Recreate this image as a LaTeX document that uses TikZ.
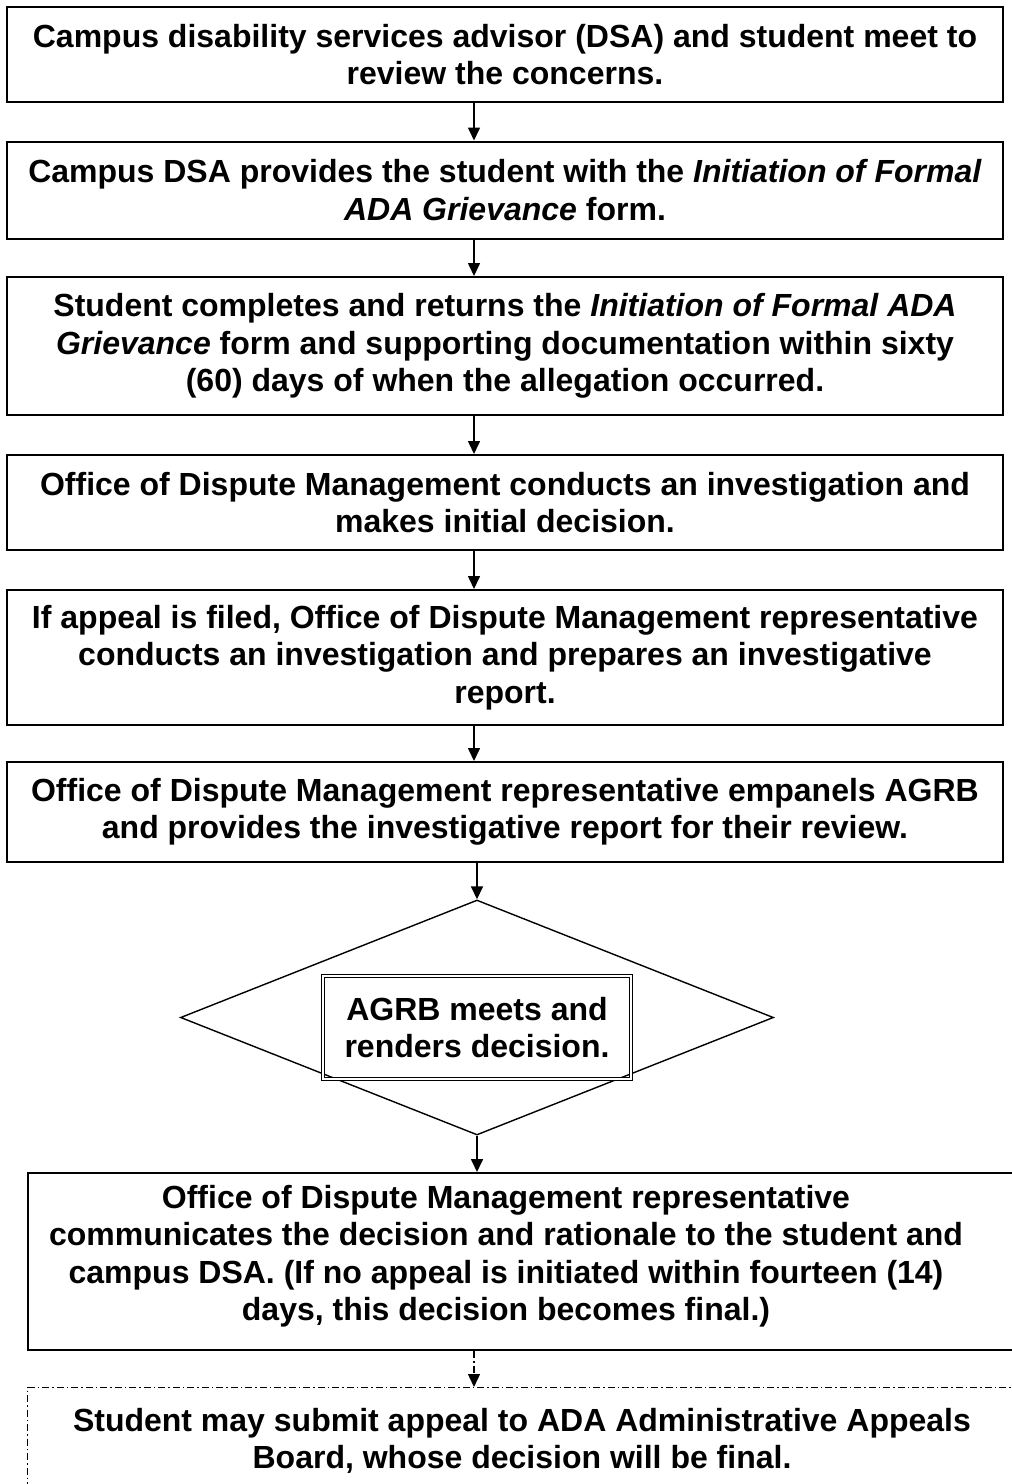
\documentclass[tikz,border=0pt]{standalone}
\usepackage{fontspec}
\setmainfont{Liberation Sans}
\usetikzlibrary{shapes.geometric,arrows.meta}
\tikzset{
  every picture/.style={x=1pt,y=-1pt},
  txt/.style={align=center, inner sep=0pt, font=\fontsize{32}{37.5}\selectfont\bfseries},
  stepbox/.style={txt, draw, line width=2pt, minimum width=996pt},
  framebox/.style={draw, line width=2pt},
  arr/.style={line width=1.6pt, -{Triangle[length=13pt,width=12pt]}},
  dasharr/.style={line width=1.4pt, dash pattern=on 7pt off 3pt on 1.5pt off 3pt, -{Triangle[length=13pt,width=12pt]}},
}
\begin{document}
\begin{tikzpicture}
\clip (0,0) rectangle (1012,1484);
\fill[white] (0,0) rectangle (1012,1484);
\coordinate (ax) at (474,0);

\node[stepbox, minimum height=95pt] (b1) at (505,54.5)
  {Campus disability services advisor (DSA) and student meet to\\review the concerns.};
\node[stepbox, minimum height=97pt] (b2) at (505,190)
  {Campus DSA provides the student with the \textit{Initiation of Formal}\\\textit{ADA Grievance} form.};
\node[stepbox, minimum height=138pt] (b3) at (505,346)
  {Student completes and returns the \textit{Initiation of Formal ADA}\\\textit{Grievance} form and supporting documentation within sixty\\(60) days of when the allegation occurred.};
\node[stepbox, minimum height=95pt] (b4) at (505,502.5)
  {Office of Dispute Management conducts an investigation and\\makes initial decision.};
\node[stepbox, minimum height=135pt] (b5) at (505,657.5)
  {If appeal is filed, Office of Dispute Management representative\\conducts an investigation and prepares an investigative\\report.};
\node[stepbox, minimum height=100pt] (b6) at (505,812)
  {Office of Dispute Management representative empanels AGRB\\and provides the investigative report for their review.};

\node[draw, line width=1.4pt, shape=diamond, inner sep=0pt, minimum width=593pt, minimum height=235pt] (d) at (477,1017.5) {};
\node[txt, draw, line width=0.9pt, double, double distance=2pt, minimum width=308pt, minimum height=103pt] (dt) at (477,1027.5)
  {AGRB meets and\\renders decision.};

\node[framebox, minimum width=1000pt, minimum height=177pt, anchor=north west] (b7) at (27,1172) {};
\node[txt] (t7) at (506,1256)
  {Office of Dispute Management representative\\communicates the decision and rationale to the student and\\campus DSA. (If no appeal is initiated within fourteen (14)\\days, this decision becomes final.)};

\node[draw, line width=1.2pt, dash pattern=on 7pt off 3pt on 1.5pt off 3pt, minimum width=1040pt, minimum height=160pt, anchor=north west] (b8) at (27,1387) {};
\node[txt] (t8) at (522,1441)
  {Student may submit appeal to ADA Administrative Appeals\\Board, whose decision will be final.};

\draw[arr] (b1.south -| ax) -- (b2.north -| ax);
\draw[arr] (b2.south -| ax) -- (b3.north -| ax);
\draw[arr] (b3.south -| ax) -- (b4.north -| ax);
\draw[arr] (b4.south -| ax) -- (b5.north -| ax);
\draw[arr] (b5.south -| ax) -- (b6.north -| ax);
\draw[arr] (b6.south -| d.north) -- (d.north);
\draw[arr] (d.south) -- (b7.north -| d.south);
\draw[dasharr] (b7.south -| ax) -- (b8.north -| ax);
\end{tikzpicture}
\end{document}
